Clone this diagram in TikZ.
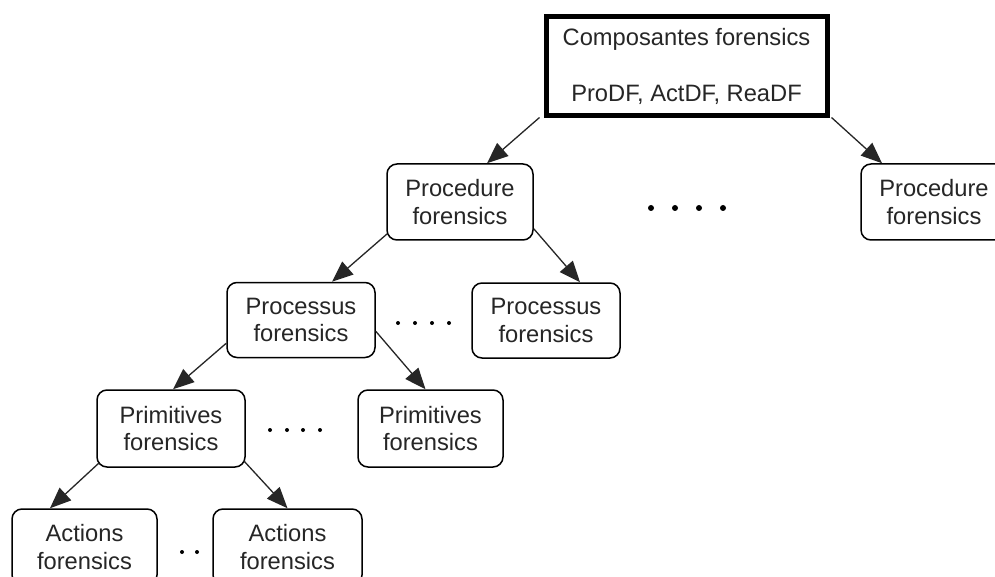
\documentclass[tikz,border=0pt]{standalone}
\usepackage{fontspec}
\setmainfont{Liberation Sans}
\usetikzlibrary{arrows.meta,calc}

\tikzset{
  box/.style={draw=black, line width=1.5pt, rounded corners=10pt,
    align=center, inner sep=0pt, minimum width=146pt, minimum height=76pt,
    font=\fontsize{23.7}{27.5}\selectfont, text=black!85},
  mainbox/.style={draw=black, line width=5pt, align=center, inner sep=0pt,
    minimum width=281pt, minimum height=99pt,
    font=\fontsize{23.7}{28}\selectfont, text=black!85},
  link/.style={draw=black!85, line width=1.3pt,
    -{Triangle[length=21pt,width=17pt]}},
  bigdot/.style={fill=black},
}

\begin{document}
\begin{tikzpicture}[x=1pt,y=-1pt]
  \clip (0,0) rectangle (995,577);
  \fill[white] (0,0) rectangle (995,577);

  % root of the hierarchy
  \node[mainbox] (root) at (686.5,66.5) {Composantes forensics\\[28pt]ProDF, ActDF, ReaDF};

  % procedures
  \node[box] (proc1) at (460,202) {Procedure\\forensics};
  \node[box] (proc2) at (934,202) {Procedure\\forensics};

  % processes
  \node[box, minimum width=148pt, minimum height=75pt] (pcs1) at (301,320) {Processus\\forensics};
  \node[box, minimum width=148pt, minimum height=75pt] (pcs2) at (546,320.5) {Processus\\forensics};

  % primitives
  \node[box, minimum width=148pt, minimum height=77pt] (prim1) at (171,428.5) {Primitives\\forensics};
  \node[box, minimum width=145pt, minimum height=77pt] (prim2) at (430.5,428.5) {Primitives\\forensics};

  % actions
  \node[box, minimum width=145pt] (act1) at (84.5,547) {Actions\\forensics};
  \node[box, minimum width=149pt] (act2) at (287.5,547) {Actions\\forensics};

  % connectors
  \draw[link] ($(root.south west)+(-4,-1)$) -- ($(proc1.north)+(27,0)$);
  \draw[link] ($(root.south east)+(2,-1)$) -- ($(proc2.north)+(-52,0)$);
  \draw[link] ($(proc1.south west)+(1,-7)$) -- ($(pcs1.north)+(31,0)$);
  \draw[link] ($(proc1.south east)+(0,-12)$) -- ($(pcs2.north)+(34,0)$);
  \draw[link] ($(pcs1.south west)+(0,-15)$) -- ($(prim1.north)+(2,0)$);
  \draw[link] ($(pcs1.south east)+(0,-27)$) -- ($(prim2.north)+(-5,0)$);
  \draw[link] ($(prim1.south west)+(3,-5)$) -- ($(act1.north)+(-34.5,0)$);
  \draw[link] ($(prim1.south east)+(-2,-7)$) -- (act2.north);

  % ellipsis dots between siblings
  \foreach \x in {651,675,699,723} \fill[bigdot] (\x,208) circle (3);
  \foreach \x in {398,415,432,449} \fill[bigdot] (\x,323) circle (2);
  \foreach \x in {270,287,303,320} \fill[bigdot] (\x,430) circle (2);
  \foreach \x in {182,197} \fill[bigdot] (\x,552) circle (2);
\end{tikzpicture}
\end{document}
